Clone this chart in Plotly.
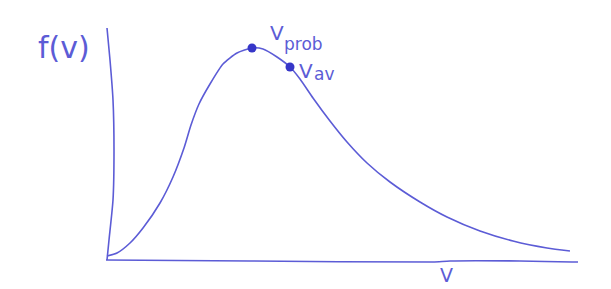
import plotly.graph_objects as go

# hand-drawn sketch traced in pixel-like data coordinates
curve_x = [107, 117, 130, 143, 160, 173, 184, 191, 199, 210, 223, 237, 252, 263, 277, 290,
           300, 313, 330, 347, 367, 390, 420, 447, 480, 513, 547, 570]
curve_y = [256, 253, 243, 228, 203, 177, 148, 125, 104, 84, 64, 53, 48, 49, 57, 67,
           79, 98, 121, 142, 163, 182, 202, 217, 231, 241, 248, 251]

yaxis_x = [107, 110, 113, 114, 113, 109, 107]
yaxis_y = [28, 60, 100, 150, 200, 240, 260]

xaxis_x = [106, 250, 433, 450, 520, 572, 578]
xaxis_y = [260, 261, 262, 261, 261, 262, 262]

dot_x = [252, 290]
dot_y = [48, 67]

labels = ["f(v)", "V", "prob", "V", "av", "V"]
label_x = [64, 277, 303, 306, 324, 446]
label_y = [47, 33, 44, 71, 74, 275]
label_size = [30, 20, 17, 20, 17, 19]

col = "#5c5cd6"
dot_col = "#3636c8"

fig = go.Figure()
fig.add_trace(go.Scatter(x=yaxis_x, y=yaxis_y, mode="lines", line=dict(color=col, width=1.6, shape="spline", smoothing=0.6), hoverinfo="skip"))
fig.add_trace(go.Scatter(x=xaxis_x, y=xaxis_y, mode="lines", line=dict(color=col, width=1.6, shape="spline", smoothing=0.6), hoverinfo="skip"))
fig.add_trace(go.Scatter(x=curve_x, y=curve_y, mode="lines", line=dict(color=col, width=1.6, shape="spline", smoothing=0.6), hoverinfo="skip"))
fig.add_trace(go.Scatter(x=dot_x, y=dot_y, mode="markers", marker=dict(color=dot_col, size=9), hoverinfo="skip"))

for t, x, y, s in zip(labels, label_x, label_y, label_size):
    fig.add_annotation(x=x, y=y, text=t, showarrow=False, xref="x", yref="y",
                       font=dict(family="DejaVu Sans", size=s, color=col))

fig.update_layout(
    width=611, height=289, margin=dict(l=0, r=0, t=0, b=0),
    paper_bgcolor="white", plot_bgcolor="white", showlegend=False,
    xaxis=dict(range=[0, 611], visible=False, fixedrange=True),
    yaxis=dict(range=[289, 0], visible=False, fixedrange=True),
)
fig.write_html("out.html")
